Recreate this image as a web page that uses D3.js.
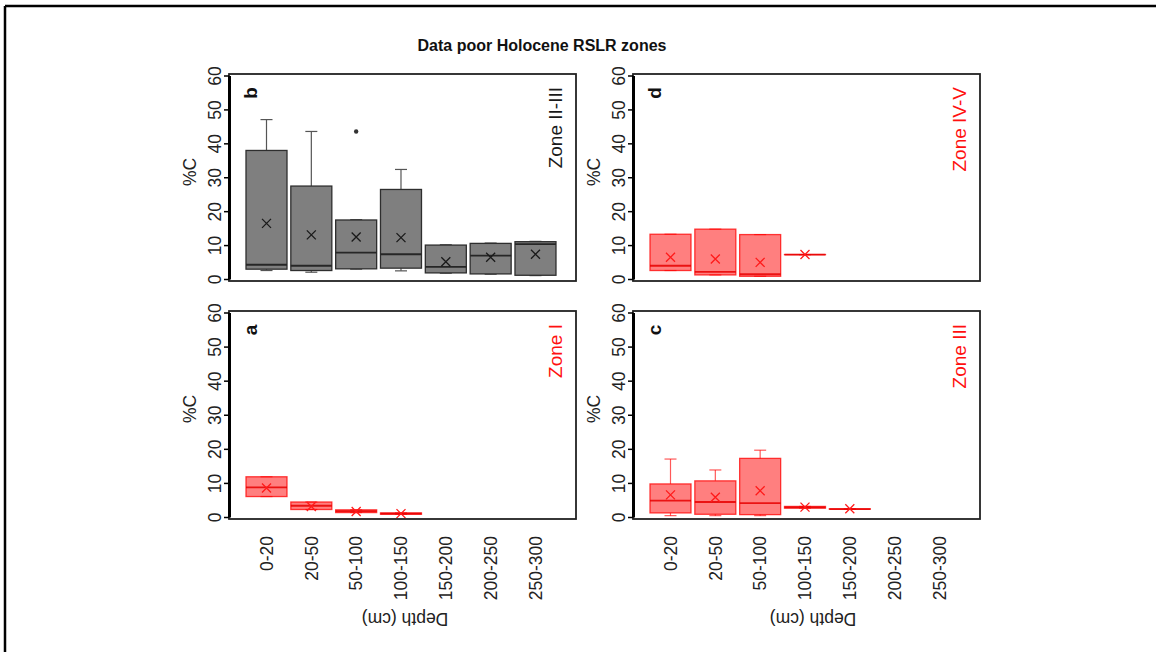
<!DOCTYPE html>
<html><head><meta charset="utf-8">
<script src="https://cdn.jsdelivr.net/npm/d3@7"></script>
<style>
body{margin:0;background:#fff}
svg{display:block}
text{font-family:"Liberation Sans",Arial,Helvetica,sans-serif}
</style>
</head><body>
<svg id="chart" width="1156" height="652"></svg>
<script>
// ---------- data ----------
const categories = ["0-20","20-50","50-100","100-150","150-200","200-250","250-300"];
const yTicks = [0,10,20,30,40,50,60];
const title = "Data poor Holocene RSLR zones";
const xTitle = "Depth (cm)";
const yTitle = "%C";

// Panel b : Zone II-III
const bLow  = [2.5, 2.0, 2.9, 2.4, 1.7, 1.4, 1.0];
const bQ1   = [2.9, 2.5, 3.0, 3.2, 1.8, 1.5, 1.1];
const bMed  = [4.2, 3.9, 7.8, 7.3, 3.6, 6.9, 10.3];
const bQ3   = [37.9, 27.4, 17.4, 26.4, 10.0, 10.5, 11.0];
const bHigh = [47.0, 43.5, 17.5, 32.3, 10.1, 10.6, 11.1];
const bMean = [16.4, 13.0, 12.4, 12.2, 5.1, 6.4, 7.3];
const bOut  = [[2, 43.5]];

// Panel d : Zone IV-V
const dLow  = [2.5, 1.2, 0.8, 7.2];
const dQ1   = [2.5, 1.2, 0.8, 7.2];
const dMed  = [3.9, 2.1, 1.4, 7.2];
const dQ3   = [13.2, 14.7, 13.1, 7.2];
const dHigh = [13.2, 14.7, 13.1, 7.2];
const dMean = [6.4, 5.9, 4.9, 7.2];

// Panel a : Zone I
const aLow  = [6.0, 2.2, 1.3, 0.8];
const aQ1   = [6.0, 2.2, 1.3, 0.8];
const aMed  = [8.7, 3.3, 1.7, 1.0];
const aQ3   = [11.8, 4.4, 2.1, 1.2];
const aHigh = [11.8, 4.4, 2.1, 1.2];
const aMean = [8.5, 3.1, 1.6, 1.0];

// Panel c : Zone III
const cLow  = [0.4, 0.4, 0.4, 2.6, 2.3];
const cQ1   = [1.2, 0.8, 0.7, 2.6, 2.3];
const cMed  = [4.8, 4.4, 4.1, 2.8, 2.3];
const cQ3   = [9.7, 10.6, 17.2, 3.1, 2.4];
const cHigh = [17.0, 13.8, 19.6, 3.1, 2.4];
const cMean = [6.5, 5.8, 7.7, 2.9, 2.4];

// ---------- layout ----------
const svg = d3.select("#chart");
const colX = [229, 633], frameW = 347;
const rowY = [74, 311], frameH = [207, 208];
const GRAY = {fill:"#7f7f7f", stroke:"#2e2e2e", med:"#262626", whisk:"#555", mean:"#1a1a1a", zone:"#1a1a1a"};
const RED  = {fill:"rgba(255,0,0,0.5)", stroke:"rgba(255,0,0,0.75)", med:"rgba(230,0,0,0.85)", whisk:"rgba(255,0,0,0.65)", mean:"#ff1a1a", zone:"#ff1010"};

const panels = [
  {letter:"b", zone:"Zone II-III", col:0, row:0, pal:GRAY, low:bLow, q1:bQ1, med:bMed, q3:bQ3, high:bHigh, mean:bMean, out:bOut},
  {letter:"d", zone:"Zone IV-V",  col:1, row:0, pal:RED,  low:dLow, q1:dQ1, med:dMed, q3:dQ3, high:dHigh, mean:dMean, out:[]},
  {letter:"a", zone:"Zone I",     col:0, row:1, pal:RED,  low:aLow, q1:aQ1, med:aMed, q3:aQ3, high:aHigh, mean:aMean, out:[]},
  {letter:"c", zone:"Zone III",   col:1, row:1, pal:RED,  low:cLow, q1:cQ1, med:cMed, q3:cQ3, high:cHigh, mean:cMean, out:[]}
];

// outer border (top and left)
svg.append("line").attr("x1",5).attr("y1",6).attr("x2",1156).attr("y2",6).attr("stroke","#000").attr("stroke-width",2.5);
svg.append("line").attr("x1",5).attr("y1",6).attr("x2",5).attr("y2",652).attr("stroke","#000").attr("stroke-width",2.5);

// title
svg.append("text").attr("x",542).attr("y",51).attr("text-anchor","middle")
  .attr("font-size",16).attr("font-weight","bold").attr("fill","#111").text(title);

const boxW = 41, capW = 12;

panels.forEach(p => {
  const fx = colX[p.col], fy = rowY[p.row], fh = frameH[p.row];
  const g = svg.append("g");
  const x = d3.scaleLinear().domain([0, 6]).range([fx + 37.5, fx + 37.5 + 6 * 44.83]);
  const y = d3.scaleLinear().domain([0, 60]).range([fy + fh - 2, fy + 1.5]);

  // boxes
  p.q1.forEach((_, i) => {
    const cx = x(i), pal = p.pal;
    g.append("line").attr("x1",cx).attr("x2",cx).attr("y1",y(p.q3[i])).attr("y2",y(p.high[i]))
      .attr("stroke",pal.whisk).attr("stroke-width",1.2);
    g.append("line").attr("x1",cx).attr("x2",cx).attr("y1",y(p.q1[i])).attr("y2",y(p.low[i]))
      .attr("stroke",pal.whisk).attr("stroke-width",1.2);
    [p.high[i], p.low[i]].forEach(v => {
      g.append("line").attr("x1",cx - capW/2).attr("x2",cx + capW/2).attr("y1",y(v)).attr("y2",y(v))
        .attr("stroke",pal.whisk).attr("stroke-width",1.2);
    });
    const top = y(p.q3[i]), bot = y(p.q1[i]);
    g.append("rect").attr("x",cx - boxW/2).attr("y",top).attr("width",boxW).attr("height",Math.max(bot - top, 0.01))
      .attr("fill",pal.fill).attr("stroke",pal.stroke).attr("stroke-width",1.3);
    g.append("line").attr("x1",cx - boxW/2).attr("x2",cx + boxW/2).attr("y1",y(p.med[i])).attr("y2",y(p.med[i]))
      .attr("stroke",pal.med).attr("stroke-width",1.8);
    const my = y(p.mean[i]), s = 4.5;
    g.append("path").attr("d",`M${cx-s},${my-s}L${cx+s},${my+s}M${cx-s},${my+s}L${cx+s},${my-s}`)
      .attr("stroke",pal.mean).attr("stroke-width",1.3).attr("fill","none");
  });
  p.out.forEach(o => {
    g.append("circle").attr("cx",x(o[0])).attr("cy",y(o[1])).attr("r",2.2).attr("fill","#333");
  });

  // frame
  g.append("rect").attr("x",fx).attr("y",fy).attr("width",frameW).attr("height",fh)
    .attr("fill","none").attr("stroke","#222").attr("stroke-width",1.8);

  // y axis
  const ax = g.append("g").attr("transform",`translate(${fx},0)`)
    .call(d3.axisLeft(y).tickValues(yTicks).tickSize(5).tickSizeOuter(0));
  ax.select(".domain").attr("stroke","#000").attr("stroke-width",3);
  ax.selectAll(".tick line").attr("stroke","#000").attr("stroke-width",1.5);
  ax.selectAll(".tick text").attr("x",0).attr("y",0).attr("dy","0.36em")
    .attr("transform","translate(-14,0) rotate(-90)").attr("text-anchor","middle")
    .attr("font-size",17.5).attr("fill","#222").attr("font-family",null);

  g.append("text").attr("transform",`translate(${fx - 33},${fy + 98}) rotate(-90)`)
    .attr("text-anchor","middle").attr("font-size",17.5).attr("fill","#222").text(yTitle);

  g.append("text").attr("transform",`translate(${fx + 21},${fy + 19}) rotate(-90)`)
    .attr("text-anchor","middle").attr("dy","0.36em").attr("font-size",19).attr("font-weight","bold").attr("fill","#111").text(p.letter);

  g.append("text").attr("transform",`translate(${fx + 326},${fy + 13}) rotate(-90)`)
    .attr("text-anchor","end").attr("dy","0.36em").attr("font-size",19).attr("fill",p.pal.zone).text(p.zone);

  if (p.row === 1) {
    categories.forEach((c, i) => {
      g.append("text").attr("transform",`translate(${x(i)},${fy + fh + 17}) rotate(-90)`)
        .attr("text-anchor","end").attr("dy","0.36em").attr("font-size",17.5).attr("fill","#222").text(c);
    });
    g.append("text").attr("transform",`translate(${fx + 176 + p.col*4},${fy + fh + 100}) rotate(180)`)
      .attr("text-anchor","middle").attr("dy","0.36em").attr("font-size",17.5).attr("fill","#222").text(xTitle);
  }
});
</script>
</body></html>
